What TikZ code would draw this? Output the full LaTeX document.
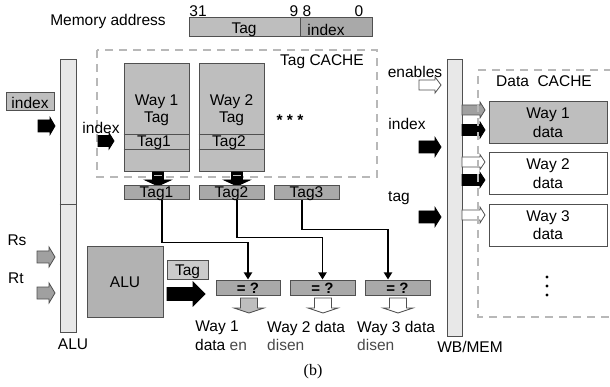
\documentclass[tikz,border=0pt]{standalone}
\usepackage{fontspec}
\setmainfont{Liberation Sans}
\newfontfamily\seriffont{Liberation Serif}
\usetikzlibrary{arrows.meta}
\definecolor{boxgray}{HTML}{BEBEBE}
\definecolor{darkbox}{HTML}{A9A9A9}
\definecolor{barfill}{HTML}{E8E8E8}
\definecolor{edge}{HTML}{505050}
\definecolor{dashgray}{HTML}{B8B8B8}
\definecolor{txtgray}{HTML}{4A4A4A}
\definecolor{arrgray}{HTML}{A0A0A0}
% right-pointing block arrow: style, x1, x2, yc, shaft, head, head length
\newcommand\blockR[7]{\draw[#1] (#2,{#4-#5/2}) -- ({#3-#7},{#4-#5/2}) -- ({#3-#7},{#4-#6/2}) -- (#3,#4) -- ({#3-#7},{#4+#6/2}) -- ({#3-#7},{#4+#5/2}) -- (#2,{#4+#5/2}) -- cycle;}
% down-pointing block arrow: style, xc, y1, y2, shaft, head, head length
\newcommand\blockD[7]{\draw[#1] ({#2-#5/2},#3) -- ({#2-#5/2},{#4-#7}) -- ({#2-#6/2},{#4-#7}) -- (#2,#4) -- ({#2+#6/2},{#4-#7}) -- ({#2+#5/2},{#4-#7}) -- ({#2+#5/2},#3) -- cycle;}
\begin{document}
\begin{tikzpicture}[x=1pt,y=-1pt,
  lbl/.style={font=\fontsize{15.5}{17}\selectfont, inner sep=0pt},
  gbox/.style={draw=edge, line width=1pt, fill=boxgray, inner sep=0pt},
  dbox/.style={draw=edge, line width=1pt, fill=darkbox, inner sep=0pt},
  wbox/.style={draw=edge, line width=1pt, fill=white, inner sep=0pt},
  bar/.style={draw=edge, line width=1pt, fill=barfill, inner sep=0pt},
  dashbox/.style={draw=dashgray, line width=1.6pt, dash pattern=on 8pt off 6pt},
  blkarr/.style={draw=black, line width=0.8pt, fill=black, line join=miter},
  gryarr/.style={draw=edge, line width=0.8pt, fill=arrgray},
  whtarr/.style={draw=edge, line width=0.8pt, fill=white},
  conn/.style={line width=1.8pt, -{Triangle[length=7pt,width=8pt]}}
]
\useasboundingbox (0,0) rectangle (610,387);

% memory address
\node[lbl] (memlbl) at (108,21) {Memory address};
\node[lbl] (b31) at (198,11) {31};
\node[lbl] (b9) at (294,11) {9};
\node[lbl] (b8) at (307,11) {8};
\node[lbl] (b0) at (359,11) {0};
\node[gbox, minimum width=111pt, minimum height=19pt] (memtag) at (244.5,27.5) {};
\node[dbox, minimum width=72pt, minimum height=19pt] (memidx) at (336,27.5) {};
\node[lbl] (memtagt) at (244,29.5) {Tag};
\node[lbl] (memidxt) at (326,29.5) {index};

% tag cache
\draw[dashbox] (97,50) rectangle (377,177);
\node[lbl] (tclbl) at (322,62) {Tag CACHE};

% left bar
\node[bar, minimum width=16pt, minimum height=272pt] (lbar) at (68,196) {};
\draw[edge, line width=1pt] (lbar.west |- 0,205) -- (lbar.east |- 0,205);
\node[lbl] (alulbl) at (73,344) {ALU};

\node[gbox, minimum width=48pt, minimum height=18pt] (idxl) at (30,102) {};
\node[lbl] (idxlt) at (30,103) {index};
\blockR{blkarr}{38}{55}{126}{12}{17}{5}

\node[lbl] (rs) at (17,240) {Rs};
\node[lbl] (rt) at (16,278) {Rt};
\blockR{gryarr}{37}{55}{257}{12}{20}{6}
\blockR{gryarr}{37}{55}{293}{12}{20}{6}

% index into tag cache
\node[lbl] (idxin) at (101,128) {index};
\blockR{blkarr}{98}{114}{141}{11}{16}{5}

% ways
\node[gbox, minimum width=65pt, minimum height=108pt] (w1) at (156.5,118) {};
\node[gbox, minimum width=65pt, minimum height=108pt] (w2) at (231.5,118) {};
\draw[edge, line width=1pt] (w1.west |- 0,135) -- (w1.east |- 0,135) (w1.west |- 0,150) -- (w1.east |- 0,150);
\draw[edge, line width=1pt] (w2.west |- 0,135) -- (w2.east |- 0,135) (w2.west |- 0,150) -- (w2.east |- 0,150);
\node[lbl] (w1a) at (156.5,102) {Way 1};
\node[lbl] (w1b) at (156.5,119) {Tag};
\node[lbl] (w1c) at (154,142.5) {Tag1};
\node[lbl] (w2a) at (231.5,102) {Way 2};
\node[lbl] (w2b) at (231.5,119) {Tag};
\node[lbl] (w2c) at (229,142.5) {Tag2};
\node[lbl, font=\fontsize{15.5}{17}\selectfont\bfseries] (dotsh) at (290,120) {* * *};

\blockD{blkarr}{158}{172}{186}{11}{26}{6}
\blockD{blkarr}{237}{172}{186}{11}{26}{6}
\draw[boxgray, line width=1.5pt] (154,175.5) -- (162,175.5) (233,175.5) -- (241,175.5);

\node[dbox, minimum width=65pt, minimum height=14pt] (t1) at (156.5,193) {};
\node[dbox, minimum width=65pt, minimum height=14pt] (t2) at (231.5,193) {};
\node[dbox, minimum width=65pt, minimum height=14pt] (t3) at (306.5,193) {};
\node[lbl] (t1t) at (156.5,193.5) {Tag1};
\node[lbl] (t2t) at (231.5,193.5) {Tag2};
\node[lbl] (t3t) at (306.5,193.5) {Tag3};

% ALU
\node[gbox, fill=darkbox!90!white, minimum width=76pt, minimum height=70pt] (alu) at (125,282) {};
\node[lbl] (alut) at (125,282) {ALU};
\node[gbox, fill=boxgray!80!white, minimum width=41pt, minimum height=18pt] (tags) at (187.5,270) {};
\node[lbl] (tagst) at (187.5,272) {Tag};
\blockR{blkarr}{167}{205}{294}{13}{24}{12}

% comparators
\node[dbox, minimum width=64pt, minimum height=15pt] (eq1) at (248,287.5) {};
\node[dbox, minimum width=65pt, minimum height=15pt] (eq2) at (322.5,287.5) {};
\node[dbox, minimum width=65pt, minimum height=15pt] (eq3) at (397.5,287.5) {};
\node[lbl, font=\fontsize{15}{16}\selectfont\bfseries] (eq1t) at (248,288) {= ?};
\node[lbl, font=\fontsize{15}{16}\selectfont\bfseries] (eq2t) at (322.5,288) {= ?};
\node[lbl, font=\fontsize{15}{16}\selectfont\bfseries] (eq3t) at (397.5,288) {= ?};

\draw[conn] ([xshift=5.5pt]t1.south) -- ++(0,42) -| (eq1.north);
\draw[conn] ([xshift=5.5pt]t2.south) -- ++(0,37) -| (eq2.north);
\draw[conn] ([xshift=-4.5pt]t3.south) -- ++(0,29) -| ([xshift=-9.5pt]eq3.north);

\blockD{gryarr, fill=boxgray}{249}{298}{313}{17}{30}{5}
\blockD{whtarr}{323}{298}{313}{17}{30}{5}
\blockD{whtarr}{398}{298}{313}{17}{30}{5}

\node[lbl] (l1a) at (217,328) {Way 1};
\node[lbl, anchor=west] (l1b) at (195,345) {data \textcolor{txtgray}{en}};
\node[lbl, anchor=west] (l2a) at (267,328) {Way 2 data};
\node[lbl, anchor=west, text=txtgray] (l2b) at (267,345) {disen};
\node[lbl, anchor=west] (l3a) at (357,328) {Way 3 data};
\node[lbl, anchor=west, text=txtgray] (l3b) at (357,345) {disen};

% WB/MEM
\node[bar, minimum width=15pt, minimum height=276pt] (wb) at (454.5,198) {};
\node[lbl] (wblbl) at (470,347) {WB/MEM};
\node[lbl] (enl) at (415,72) {enables};
\node[lbl] (ixl) at (407,124) {index};
\node[lbl] (tgl) at (399,198) {tag};
\blockR{whtarr}{419}{441}{85}{10}{16}{6}
\blockR{blkarr}{419}{441}{147}{12}{19}{6}
\blockR{blkarr}{419}{441}{217}{12}{19}{6}

\blockR{gryarr}{462}{485}{110}{10}{16}{5}
\blockR{blkarr}{462}{485}{130}{11}{16}{5}
\blockR{whtarr}{462}{485}{162}{10}{15}{5}
\blockR{blkarr}{462}{485}{180}{11}{15}{5}
\blockR{whtarr}{462}{485}{215}{10}{16}{5}

% data cache
\draw[dashbox] (612,70) -- (478,70) -- (478,317) -- (612,317);
\node[lbl] (dclbl) at (544,81) {Data\ \ CACHE};
\node[gbox, minimum width=118pt, minimum height=42pt] (d1) at (548,123) {};
\node[wbox, minimum width=118pt, minimum height=42pt] (d2) at (548,174) {};
\node[wbox, minimum width=118pt, minimum height=42pt] (d3) at (548,226) {};
\node[lbl] (d1a) at (548,115) {Way 1};
\node[lbl] (d1b) at (548,132) {data};
\node[lbl] (d2a) at (548,166) {Way 2};
\node[lbl] (d2b) at (548,183) {data};
\node[lbl] (d3a) at (548,218) {Way 3};
\node[lbl] (d3b) at (548,234) {data};
\fill (547,277) circle (1.7pt) (547,286) circle (1.7pt) (547,295) circle (1.7pt);

\node[inner sep=0pt, font=\seriffont\fontsize{16}{18}\selectfont] (cap) at (313,372) {(b)};
\end{tikzpicture}
\end{document}
